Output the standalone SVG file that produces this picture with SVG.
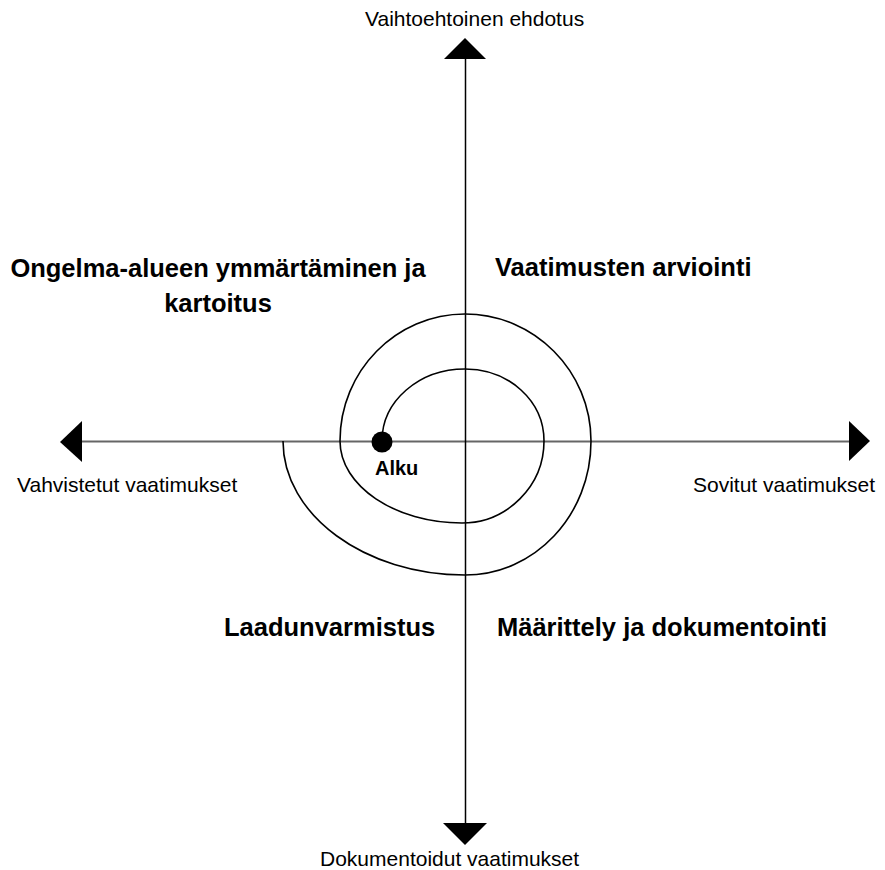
<svg xmlns="http://www.w3.org/2000/svg" width="885" height="870" viewBox="0 0 885 870">
  <style>
    .axis { fill: none; }
    .head { fill: #000; stroke: none; }
    .spiral { stroke: #000; stroke-width: 1.6; fill: none; }
    .small { font-family: "Liberation Sans", Arial, sans-serif; font-size: 21px; fill: #000; }
    .phase { font-family: "Liberation Sans", Arial, sans-serif; font-size: 25.5px; font-weight: bold; fill: #000; }
    .start { font-family: "Liberation Sans", Arial, sans-serif; font-size: 20px; font-weight: bold; fill: #000; }
  </style>
  <rect width="885" height="870" fill="#fff"/>

  <!-- axes -->
  <g id="connectors">
    <line class="axis" x1="82" y1="441.5" x2="849" y2="441.5" stroke="#666" stroke-width="2"/>
    <line class="axis" x1="465.5" y1="59" x2="465.5" y2="823" stroke="#000" stroke-width="1.5"/>
    <polygon class="head" points="465,38 444,59 486,59"/>
    <polygon class="head" points="465,845 443,823 487,823"/>
    <polygon class="head" points="60,442 82,421 82,462"/>
    <polygon class="head" points="870,441 849,421 849,461"/>
    <!-- spiral from the start point outwards -->
    <path class="spiral" d="M 382 441
      C 382 401 419 369 465 369
      C 509 369 544 401 544 441
      C 544 486 507 523 462 523
      C 395 523 340 486 340 441
      C 340 371 396 314 465 314
      C 534 314 591 371 591 441
      C 591 515 535 575 465 575
      C 365 575 283 515 283 441"/>
  </g>

  <!-- axis end labels -->
  <g id="label-top"><text class="small" x="365" y="26">Vaihtoehtoinen ehdotus</text></g>
  <g id="label-left"><text class="small" x="17" y="492">Vahvistetut vaatimukset</text></g>
  <g id="label-right"><text class="small" x="693" y="492">Sovitut vaatimukset</text></g>
  <g id="label-bottom"><text class="small" x="320" y="866">Dokumentoidut vaatimukset</text></g>

  <!-- quadrant phases -->
  <g id="phase-1">
    <text class="phase" text-anchor="middle" x="218" y="277">Ongelma-alueen ymmärtäminen ja</text>
    <text class="phase" text-anchor="middle" x="218" y="312">kartoitus</text>
  </g>
  <g id="phase-2"><text class="phase" x="495" y="276">Vaatimusten arviointi</text></g>
  <g id="phase-3"><text class="phase" x="224" y="636">Laadunvarmistus</text></g>
  <g id="phase-4"><text class="phase" x="497" y="636">Määrittely ja dokumentointi</text></g>

  <!-- start point -->
  <g id="start">
    <circle cx="382" cy="442" r="10.5" fill="#000"/>
    <text class="start" x="375" y="475">Alku</text>
  </g>
</svg>
